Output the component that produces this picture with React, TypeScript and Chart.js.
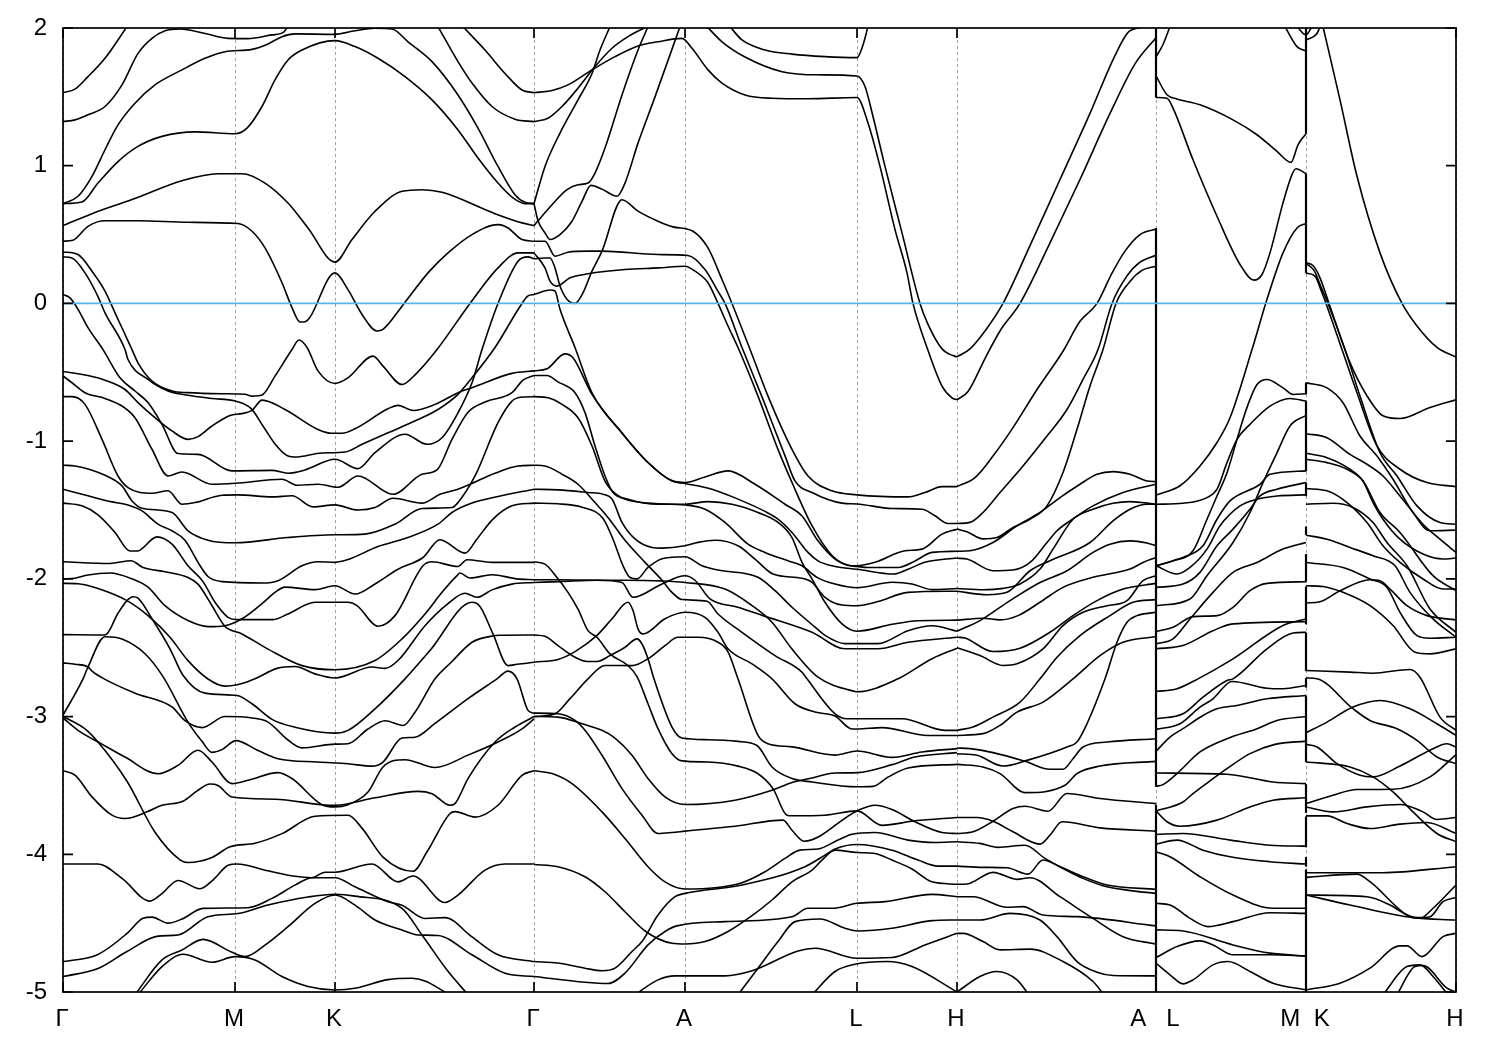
import React, { useEffect, useRef } from "react";
import { Chart, registerables } from "chart.js";

Chart.register(...registerables);

const kTicks = [63, 235, 335, 534, 685, 857, 957, 1156, 1306, 1456];
const kLabels = ["Γ", "M", "K", "Γ", "A", "L", "H", "A   L", "M  K", "H"];
const energyMin = -5;
const energyMax = 2;
const fermiLevel = 0;

// Each band: k, E, k, E, ...
const bandsGammaMKGamma: number[][] = [
  [63,1.53,75,1.556,88,1.647,105,1.78,127,2.01],
  [63,1.32,75,1.333,88,1.37,105,1.43,122,1.587,138,1.816,152,1.925,165,1.98,180,1.993,205,1.96,228,1.925,248,1.923,272,1.95,283,1.966,288,2.01],
  [63,.725,78,.778,92,.923,105,1.116,118,1.297,135,1.454,155,1.587,182,1.696,205,1.78,225,1.828,252,1.845,268,1.884,282,1.937,295,1.957,335,1.954,355,1.98,375,1.998,392,1.993,408,1.9,432,1.756,458,1.514,478,1.273,498,.995,515,.79,525,.734,534,.725],
  [63,.725,82,.737,98,.874,118,1.03,138,1.14,162,1.213,195,1.246,235,1.232,247,1.273,262,1.43,275,1.623,288,1.768,302,1.84,335,1.908,355,1.865,378,1.78,405,1.647,432,1.478,458,1.26,478,1.056,498,.874,513,.766,525,.725,534,.725],
  [63,.565,92,.652,132,.754,182,.891,218,.942,242,.942,265,.874,288,.729,308,.548,335,.3,352,.464,375,.669,402,.814,422,.826,442,.807,495,.652,522,.585,534,.565],
  [63,.452,73,.459,88,.56,105,.6,138,.6,188,.589,238,.58,252,.524,265,.403,282,.15,292,-.03,300,-.135,304,-.135,335,.222,348,.1,362,-.08,377,-.2,383,-.188,402,-.02,428,.222,448,.367,472,.5,498,.572,508,.548,522,.464,534,.452],
  [63,.374,78,.355,92,.234,105,.09,115,-.068,132,-.335,138,-.431,152,-.564,172,-.636,188,-.648,222,-.656,245,-.66,252,-.673,262,-.665,275,-.528,292,-.335,299,-.266,307,-.32,318,-.49,335,-.581,348,-.54,373,-.383,383,-.455,402,-.589,417,-.504,437,-.335,470,0,498,.258,518,.367,534,.367],
  [63,.338,72,.33,85,.222,98,.05,105,-.068,125,-.335,128,-.407,148,-.552,168,-.636,188,-.667,212,-.69,235,-.709,251,-.762,263,-.89,275,-1.02,288,-1.108,295,-1.115,322,-1.086,345,-1.079,362,-1.023,388,-.939,417,-.847,438,-.77,458,-.66,472,-.54,495,-.32,522,0,528,.055,534,.065],
  [63,.065,70,.04,78,-.043,88,-.176,103,-.335,120,-.54,135,-.636,148,-.72,162,-.878,178,-1.09,198,-1.096,232,-1.216,272,-1.212,288,-1.233,305,-1.209,335,-1.132,358,-1.2,375,-1.084,405,-.95,427,-1.023,442,-.975,458,-.794,472,-.576,482,-.335,498,0,518,.307,528,.338,534,.324],
  [63,-.494,88,-.523,105,-.557,125,-.625,138,-.72,155,-.83,172,-.926,188,-.987,198,-.967,212,-.89,230,-.813,242,-.8,252,-.777,262,-.702,285,-.77,318,-.915,332,-.943,342,-.943,355,-.91,388,-.765,398,-.74,413,-.777,435,-.733,458,-.648,472,-.612,512,-.508,534,-.49],
  [63,-.527,72,-.576,85,-.648,105,-.69,122,-.745,135,-.83,152,-1.059,168,-1.253,182,-1.224,212,-1.313,235,-1.306,282,-1.277,297,-1.32,318,-1.313,338,-1.335,358,-1.253,393,-1.386,422,-1.24,437,-1.209,452,-.987,468,-.79,485,-.716,512,-.648,523,-.557,534,-.523],
  [63,-.677,72,-.677,85,-.733,102,-.987,118,-1.253,128,-1.337,152,-1.378,168,-1.36,182,-1.458,195,-1.446,222,-1.393,238,-1.39,272,-1.405,292,-1.397,313,-1.477,335,-1.463,358,-1.5,375,-1.482,393,-1.415,422,-1.45,440,-1.386,458,-1.349,470,-1.313,495,-1.233,518,-1.18,534,-1.175],
  [63,-1.175,75,-1.18,105,-1.248,122,-1.325,132,-1.434,142,-1.487,172,-1.518,188,-1.651,208,-1.719,235,-1.738,288,-1.7,335,-1.68,365,-1.675,395,-1.603,422,-1.489,452,-1.482,458,-1.446,475,-1.253,498,-.866,512,-.709,522,-.68,534,-.677],
  [63,-1.349,88,-1.397,112,-1.441,128,-1.463,142,-1.506,158,-1.603,172,-1.651,185,-1.72,198,-1.88,208,-1.983,222,-2.02,263,-2.03,278,-2.013,302,-1.905,318,-1.876,335,-1.88,348,-1.86,378,-1.765,405,-1.707,438,-1.603,452,-1.518,472,-1.45,498,-1.402,534,-1.349],
  [63,-1.45,82,-1.47,98,-1.535,115,-1.663,130,-1.798,137,-1.798,157,-1.695,172,-1.748,188,-1.905,203,-2.02,215,-2.17,228,-2.279,237,-2.296,273,-2.296,288,-2.255,315,-2.17,348,-2.17,357,-2.194,378,-2.344,395,-2.267,423,-1.905,432,-1.876,458,-1.91,467,-1.861,492,-1.88,534,-1.88],
  [63,-2.0,75,-1.995,88,-1.972,110,-1.958,132,-2.0,148,-2.06,165,-2.195,188,-2.303,208,-2.347,225,-2.34,242,-2.29,262,-2.18,275,-2.098,285,-2.06,315,-2.078,335,-2.05,355,-2.11,375,-2.037,398,-1.93,423,-1.845,440,-1.716,465,-1.813,477,-1.71,493,-1.566,512,-1.47,534,-1.45],
  [63,-1.876,110,-1.888,131,-1.868,143,-1.917,165,-1.948,188,-1.99,198,-2.038,212,-2.195,225,-2.345,242,-2.4,268,-2.51,302,-2.63,335,-2.66,375,-2.593,402,-2.436,425,-2.255,442,-2.098,457,-1.977,460,-1.958,470,-1.994,492,-1.97,517,-2.0,534,-2.006],
  [63,-2.033,78,-2.035,98,-2.07,127,-2.158,148,-2.267,170,-2.424,188,-2.594,208,-2.727,225,-2.779,242,-2.76,255,-2.726,277,-2.65,295,-2.636,315,-2.69,335,-2.72,372,-2.64,385,-2.65,398,-2.593,425,-2.34,448,-2.18,465,-2.105,477,-2.134,492,-2.08,512,-2.038,534,-2.026],
  [63,-2.405,105,-2.408,118,-2.25,127,-2.158,133,-2.13,138,-2.14,152,-2.29,170,-2.508,183,-2.7,205,-2.83,237,-2.847,252,-2.907,272,-3.02,295,-3.077,335,-3.12,348,-3.1,375,-2.944,405,-2.726,430,-2.52,472,-2.17,480,-2.2,493,-2.4,508,-2.63,517,-2.62,534,-2.606],
  [63,-2.99,83,-2.726,88,-2.64,105,-2.42,122,-2.437,145,-2.544,163,-2.71,188,-3.04,202,-3.18,212,-3.26,222,-3.24,236,-3.175,258,-3.246,278,-3.306,318,-3.33,348,-3.343,372,-3.36,383,-3.33,402,-3.156,415,-3.15,435,-3.05,468,-2.87,497,-2.726,508,-2.67,517,-2.726,528,-2.955,534,-2.976],
  [63,-2.61,75,-2.62,88,-2.64,92,-2.67,105,-2.73,135,-2.83,172,-2.93,185,-3.03,202,-3.08,225,-3.0,252,-3.01,268,-3.04,288,-3.17,302,-3.227,335,-3.2,348,-3.197,368,-3.09,385,-3.03,403,-3.065,415,-2.968,435,-2.726,452,-2.6,472,-2.46,492,-2.416,500,-2.41,534,-2.408],
  [63,-3.0,85,-3.09,98,-3.185,127,-3.47,155,-3.84,180,-4.04,188,-4.06,212,-4.023,230,-3.946,255,-3.92,282,-3.85,315,-3.724,348,-3.717,362,-3.81,383,-4.02,413,-4.123,427,-3.982,450,-3.704,455,-3.69,475,-3.73,498,-3.644,522,-3.427,534,-3.393],
  [63,-3.01,78,-3.1,102,-3.2,125,-3.294,158,-3.415,178,-3.354,198,-3.245,212,-3.33,232,-3.487,248,-3.463,278,-3.407,292,-3.45,322,-3.64,335,-3.656,348,-3.64,368,-3.547,383,-3.366,405,-3.313,435,-3.37,468,-3.28,498,-3.185,522,-3.09,534,-3.016],
  [63,-3.393,75,-3.426,92,-3.583,112,-3.716,125,-3.74,147,-3.692,162,-3.644,183,-3.615,198,-3.535,210,-3.49,218,-3.5,232,-3.584,275,-3.6,322,-3.64,335,-3.644,375,-3.59,418,-3.543,432,-3.56,450,-3.644,455,-3.632,468,-3.45,495,-3.185,515,-3.076,534,-3.0],
  [63,-4.07,98,-4.07,122,-4.175,150,-4.34,162,-4.285,178,-4.19,200,-4.25,213,-4.187,228,-4.08,237,-4.07,268,-4.12,295,-4.16,312,-4.17,325,-4.13,335,-4.13,372,-4.07,398,-4.2,413,-4.158,445,-4.35,458,-4.296,485,-4.115,505,-4.07,534,-4.07],
  [63,-4.78,98,-4.727,127,-4.575,143,-4.465,152,-4.456,168,-4.5,182,-4.47,203,-4.393,248,-4.388,272,-4.32,295,-4.224,312,-4.17,335,-4.17,355,-4.236,388,-4.345,402,-4.37,425,-4.466,445,-4.46,472,-4.6,498,-4.73,534,-4.78],
  [63,-4.888,98,-4.83,127,-4.706,158,-4.594,178,-4.586,208,-4.453,238,-4.43,268,-4.368,308,-4.31,335,-4.29,355,-4.304,402,-4.393,422,-4.586,448,-4.85,468,-5.02],
  [135,-5.02,162,-4.767,182,-4.695,203,-4.618,232,-4.712,245,-4.743,265,-4.66,288,-4.526,315,-4.357,335,-4.296,355,-4.369,375,-4.477,402,-4.55,418,-4.586,438,-4.59,472,-4.73,505,-4.864,534,-4.888],
  [138,-5.02,162,-4.816,183,-4.726,212,-4.784,235,-4.743,255,-4.767,282,-4.888,308,-4.96,335,-4.985,355,-4.973,388,-4.91,412,-4.9,425,-4.92,445,-5.0],
  [438,2.01,458,1.756,472,1.6,492,1.43,515,1.338,534,1.32],
  [463,2.01,485,1.84,505,1.67,522,1.55,534,1.53],
];

const bandsGammaALH: number[][] = [
  [534,1.53,552,1.546,568,1.587,592,1.696,615,1.792,638,1.87,658,1.9,682,1.925,692,1.853,708,1.696,722,1.6,745,1.514,772,1.49,808,1.486,857,1.495,868,1.31,880,.995,895,.536,907,.222,913,0,927,-.32,942,-.6,952,-.685,957,-.7],
  [534,1.32,548,1.345,562,1.43,578,1.563,595,1.72,612,1.853,628,1.937,647,2.01],
  [534,.725,545,.995,560,1.237,578,1.478,592,1.67,600,1.84,610,2.01],
  [534,.565,538,.6,552,.717,567,.826,578,.862,588,.874,595,.947,605,1.128,622,1.514,638,1.84,648,2.01],
  [707,2.01,722,1.9,745,1.79,782,1.683,818,1.66,857,1.652,865,1.575,873,1.357,885,.995,902,.512,920,0,928,-.152,942,-.33,950,-.37,957,-.388],
  [730,2.01,742,1.913,765,1.84,792,1.81,825,1.792,857,1.785,863,1.877,868,2.01],
  [534,.725,538,.6,545,.512,550,.464,560,.5,572,.597,582,.741,591,.857,602,.83,617,.778,625,.874,638,1.164,655,1.5,680,2.01],
  [534,.452,545,.452,555,.343,568,.372,588,.38,602,.38,658,.355,688,.348,705,.246,717,.1,725,0,742,-.32,763,-.697,785,-1.107,795,-1.289,812,-1.373,842,-1.45,857,-1.456,892,-1.489,922,-1.494,935,-1.542,948,-1.598,957,-1.598],
  [534,.367,545,.258,550,.162,557,.126,570,.186,588,.215,625,.246,658,.258,685,.27,695,.234,708,.15,718,0,728,-.164,738,-.32,758,-.673,778,-1.06,792,-1.3,812,-1.614,832,-1.83,852,-1.905,857,-1.905,875,-1.88,905,-1.796,922,-1.784,942,-1.675,957,-1.639],
  [534,.324,545,.33,550,.33,555,.258,560,.126,567,.03,575,0,583,.077,592,.234,602,.38,622,.753,638,.67,658,.597,673,.556,693,.524,708,.403,722,.174,732,0,750,-.333,768,-.673,792,-1.06,808,-1.253,832,-1.361,857,-1.39,908,-1.405,925,-1.373,942,-1.33,957,-1.33],
  [534,.065,550,.097,555,.09,560,-.043,575,-.32,592,-.649,622,-.939,648,-1.155,675,-1.294,685,-1.3,705,-1.26,728,-1.216,755,-1.313,785,-1.458,802,-1.543,818,-1.724,835,-1.857,850,-1.905,857,-1.91,868,-1.917,898,-1.917,915,-1.87,932,-1.808,957,-1.8],
  [534,-.49,547,-.475,565,-.366,573,-.395,592,-.66,622,-.943,648,-1.155,672,-1.29,685,-1.308,712,-1.349,738,-1.421,765,-1.51,778,-1.566,792,-1.663,808,-1.808,818,-1.869,835,-1.91,857,-1.93,894,-1.965,908,-1.93,925,-1.88,957,-1.848],
  [534,-.523,547,-.523,558,-.57,575,-.648,585,-.793,595,-1.035,605,-1.253,613,-1.373,628,-1.422,658,-1.458,685,-1.458,708,-1.439,732,-1.458,758,-1.518,778,-1.59,792,-1.7,802,-1.88,812,-2.0,825,-2.17,842,-2.327,857,-2.38,892,-2.33,918,-2.304,957,-2.3],
  [534,-.677,548,-.685,562,-.733,578,-.83,592,-1.035,605,-1.29,617,-1.39,642,-1.446,685,-1.463,705,-1.494,725,-1.59,748,-1.748,765,-1.808,788,-1.868,802,-1.905,817,-1.989,835,-2.038,857,-2.065,892,-2.025,912,-2.037,932,-2.078,957,-2.07],
  [534,-1.175,545,-1.18,562,-1.24,578,-1.313,595,-1.446,608,-1.554,625,-1.72,645,-1.88,662,-2.01,672,-2.098,682,-2.15,707,-2.163,718,-2.255,742,-2.388,775,-2.557,802,-2.678,807,-2.726,835,-2.98,847,-3.016,902,-3.016,945,-3.1,957,-3.1],
  [534,-1.349,558,-1.354,588,-1.373,603,-1.385,612,-1.42,622,-1.59,635,-1.71,652,-1.772,662,-1.777,685,-1.76,698,-1.735,715,-1.72,738,-1.76,755,-1.856,773,-1.965,802,-1.996,812,-2.025,825,-2.134,842,-2.19,857,-2.195,878,-2.165,908,-2.098,957,-2.09],
  [534,-1.45,558,-1.455,582,-1.48,603,-1.562,613,-1.712,623,-1.905,630,-1.99,637,-2.0,648,-1.917,663,-1.852,685,-1.84,702,-1.905,718,-1.936,758,-1.989,775,-2.086,792,-2.206,815,-2.35,825,-2.41,845,-2.47,878,-2.47,908,-2.376,932,-2.34,957,-2.38],
  [534,-2.006,560,-2.006,603,-2.01,625,-2.01,662,-2.015,685,-2.026,725,-2.074,752,-2.194,772,-2.315,792,-2.51,818,-2.714,855,-2.818,857,-2.82,898,-2.726,932,-2.58,957,-2.504],
  [534,-2.026,560,-2.02,597,-2.01,622,-2.026,633,-2.134,662,-2.037,685,-1.977,695,-2.01,710,-2.146,738,-2.206,763,-2.267,812,-2.388,845,-2.508,878,-2.508,908,-2.46,957,-2.424],
  [534,-1.876,545,-1.893,558,-2.0,568,-2.098,578,-2.22,588,-2.376,597,-2.424,610,-2.545,628,-2.63,637,-2.71,648,-2.907,658,-3.088,672,-3.27,682,-3.322,708,-3.33,738,-3.36,758,-3.415,773,-3.523,787,-3.716,792,-3.72,825,-3.716,857,-3.685,882,-3.79,915,-3.757,957,-3.733],
  [534,-2.408,545,-2.417,558,-2.485,572,-2.557,587,-2.6,597,-2.6,610,-2.557,625,-2.497,637,-2.436,642,-2.473,648,-2.58,654,-2.726,672,-3.076,682,-3.156,708,-3.168,738,-3.18,757,-3.21,772,-3.366,792,-3.45,812,-3.475,857,-3.51,873,-3.507,888,-3.44,908,-3.373,957,-3.347],
  [534,-3.0,555,-2.98,570,-2.87,588,-2.726,605,-2.629,632,-2.63,648,-2.58,665,-2.485,678,-2.424,698,-2.424,718,-2.46,728,-2.53,738,-2.726,758,-3.137,768,-3.197,792,-3.22,835,-3.28,857,-3.25,892,-3.296,922,-3.257,957,-3.233],
  [534,-2.605,558,-2.585,575,-2.528,597,-2.41,612,-2.29,628,-2.17,633,-2.23,638,-2.363,643,-2.4,665,-2.29,685,-2.243,705,-2.28,718,-2.388,728,-2.508,752,-2.617,772,-2.726,795,-2.907,815,-2.967,835,-2.996,852,-3.09,857,-3.09,882,-3.08,928,-3.137,957,-3.137],
  [534,-2.975,558,-2.98,575,-3.028,585,-3.1,602,-3.281,622,-3.523,642,-3.716,658,-3.849,672,-3.842,685,-3.832,735,-3.796,783,-3.752,792,-3.825,804,-3.905,857,-3.685,875,-3.644,892,-3.675,915,-3.764,942,-3.842,957,-3.849],
  [534,-2.999,558,-3.004,582,-3.052,602,-3.1,615,-3.156,632,-3.281,648,-3.45,665,-3.583,685,-3.639,735,-3.607,772,-3.535,792,-3.479,812,-3.446,835,-3.41,857,-3.407,892,-3.349,915,-3.293,957,-3.262],
  [534,-3.393,552,-3.414,572,-3.487,602,-3.692,625,-3.885,648,-4.09,665,-4.2,685,-4.252,715,-4.243,742,-4.206,765,-4.127,785,-4.03,800,-3.97,818,-3.962,838,-3.897,852,-3.854,875,-3.842,908,-3.897,935,-3.914,957,-3.909],
  [534,-4.074,558,-4.09,585,-4.163,605,-4.272,625,-4.417,645,-4.557,672,-4.646,685,-4.651,705,-4.634,728,-4.561,752,-4.446,772,-4.332,792,-4.2,812,-4.115,822,-4.042,835,-3.97,857,-3.987,875,-3.994,892,-4.042,912,-4.107,932,-4.2,957,-4.218],
  [534,-4.779,558,-4.79,585,-4.827,602,-4.846,615,-4.827,632,-4.706,642,-4.634,658,-4.441,675,-4.308,685,-4.284,742,-4.223,805,-4.09,825,-4.006,835,-3.962,857,-3.929,892,-3.97,918,-4.042,938,-4.086,957,-4.086],
  [534,-4.887,585,-4.929,608,-4.938,625,-4.863,648,-4.658,665,-4.561,677,-4.52,725,-4.489,792,-4.453,808,-4.392,832,-4.392,857,-4.356,885,-4.344,932,-4.291,957,-4.308],
  [635,-5.02,658,-4.912,675,-4.883,725,-4.883,752,-4.846,798,-4.702,815,-4.682,857,-4.755,892,-4.75,925,-4.658,957,-4.574],
  [738,-5.02,758,-4.827,778,-4.634,795,-4.489,820,-4.47,845,-4.537,858,-4.557,892,-4.537,932,-4.482,957,-4.477],
  [812,-5.02,835,-4.851,855,-4.798,887,-4.779,912,-4.815,957,-5.0],
];

const bandsHA: number[][] = [
  [957,-.388,970,-.33,985,-.2,1003,0,1030,.42,1060,.9,1090,1.38,1115,1.8,1130,1.98,1150,2.01],
  [957,-.7,968,-.64,985,-.4,1000,-.2,1020,0,1050,.44,1080,.9,1110,1.38,1135,1.74,1156,1.93],
  [957,-1.33,975,-1.265,993,-1.108,1013,-.902,1037,-.625,1063,-.347,1080,-.13,1097,0,1112,.22,1125,.38,1140,.5,1156,.54],
  [957,-1.598,970,-1.59,983,-1.518,1000,-1.373,1023,-1.18,1047,-.963,1067,-.77,1083,-.552,1098,-.335,1112,0,1127,.2,1140,.3,1156,.35],
  [957,-1.639,967,-1.658,983,-1.71,997,-1.7,1013,-1.627,1030,-1.567,1047,-1.47,1063,-1.228,1077,-.914,1090,-.6,1103,-.335,1116,0,1130,.16,1142,.24,1156,.27],
  [957,-1.8,970,-1.796,993,-1.736,1017,-1.615,1040,-1.518,1060,-1.41,1080,-1.313,1097,-1.241,1113,-1.221,1130,-1.241,1147,-1.289,1156,-1.294],
  [957,-1.85,967,-1.856,993,-1.941,1013,-1.936,1030,-1.881,1047,-1.736,1057,-1.651,1070,-1.579,1093,-1.47,1123,-1.373,1156,-1.313],
  [957,-2.07,983,-2.079,1003,-2.069,1020,-2.037,1040,-1.929,1053,-1.784,1073,-1.567,1093,-1.494,1113,-1.451,1130,-1.439,1156,-1.458],
  [957,-2.09,987,-2.115,1007,-2.098,1030,-1.941,1050,-1.868,1090,-1.736,1113,-1.579,1130,-1.494,1147,-1.458,1156,-1.458],
  [957,-2.3,983,-2.286,1000,-2.298,1018,-2.267,1040,-2.17,1063,-2.062,1093,-1.989,1130,-1.929,1143,-1.881,1156,-1.845],
  [957,-2.38,980,-2.303,1010,-2.158,1040,-2.026,1067,-1.941,1093,-1.808,1110,-1.748,1130,-1.724,1147,-1.74,1156,-1.76],
  [957,-2.424,965,-2.43,993,-2.528,1020,-2.504,1050,-2.388,1073,-2.267,1097,-2.158,1123,-2.074,1156,-2.033],
  [957,-2.501,980,-2.557,1003,-2.629,1017,-2.617,1043,-2.509,1063,-2.34,1083,-2.243,1107,-2.195,1127,-2.158,1143,-2.013,1156,-1.977],
  [957,-3.1,973,-3.076,993,-3.004,1020,-2.895,1040,-2.726,1057,-2.569,1080,-2.412,1110,-2.267,1133,-2.17,1156,-2.151],
  [957,-3.137,983,-3.124,1000,-3.064,1017,-2.968,1043,-2.895,1073,-2.726,1100,-2.557,1123,-2.46,1156,-2.419],
  [957,-3.27,977,-3.281,1003,-3.359,1027,-3.318,1067,-3.221,1077,-3.185,1087,-3.052,1105,-2.726,1117,-2.46,1127,-2.315,1137,-2.267,1156,-2.243],
  [957,-3.228,970,-3.233,993,-3.262,1025,-3.325,1050,-3.383,1063,-3.383,1073,-3.306,1083,-3.221,1107,-3.185,1156,-3.161],
  [957,-3.347,983,-3.366,1000,-3.414,1025,-3.552,1065,-3.499,1077,-3.414,1100,-3.359,1156,-3.325],
  [957,-3.733,977,-3.733,993,-3.76,1013,-3.837,1040,-3.926,1050,-3.861,1062,-3.764,1100,-3.808,1156,-3.832],
  [957,-3.849,973,-3.837,993,-3.76,1013,-3.668,1025,-3.651,1048,-3.687,1067,-3.559,1100,-3.595,1156,-3.632],
  [957,-3.909,980,-3.921,998,-3.95,1025,-3.934,1045,-4.03,1063,-4.103,1083,-4.175,1103,-4.228,1127,-4.26,1156,-4.284],
  [957,-4.086,983,-4.095,1007,-4.098,1028,-4.144,1043,-4.042,1060,-4.09,1083,-4.163,1107,-4.223,1156,-4.255],
  [957,-4.218,967,-4.216,993,-4.131,1017,-4.182,1030,-4.17,1060,-4.308,1093,-4.465,1123,-4.598,1156,-4.653],
  [957,-4.308,973,-4.308,1007,-4.385,1023,-4.38,1043,-4.441,1077,-4.453,1156,-4.52],
  [957,-4.477,980,-4.477,1010,-4.429,1040,-4.477,1057,-4.598,1077,-4.779,1097,-4.856,1113,-4.88,1156,-4.883],
  [957,-4.574,963,-4.574,983,-4.634,1000,-4.694,1030,-4.689,1063,-4.779,1093,-4.924,1104,-5.02],
  [957,-5.0,980,-4.887,997,-4.851,1017,-4.912,1029,-5.02],
];

const bandsLM: number[][] = [
  [1156,1.79,1163,1.88,1170,2.01],
  [1156,1.652,1167,1.515,1177,1.485,1200,1.442,1233,1.333,1257,1.225,1277,1.104,1291,1.024,1298,1.152,1306,1.232],
  [1156,1.495,1167,1.49,1173,1.418,1193,1.043,1217,.633,1240,.283,1254,.169,1262,.21,1270,.367,1283,.73,1292,.935,1296,.978,1306,.942],
  [1285,2.01,1297,1.865,1306,1.833],
  [1157,-1.39,1180,-1.324,1200,-1.18,1217,-1.01,1230,-.83,1252,-.335,1267,.03,1283,.367,1297,.548,1306,.58],
  [1156,-1.905,1173,-1.868,1193,-1.796,1207,-1.567,1217,-1.398,1227,-1.229,1237,-.987,1243,-.842,1250,-.697,1257,-.589,1267,-.552,1283,-.613,1293,-.661,1306,-.656],
  [1156,-1.458,1183,-1.451,1207,-1.41,1217,-1.349,1227,-1.156,1237,-.987,1250,-.878,1270,-.746,1290,-.69,1306,-.709],
  [1156,-1.905,1183,-1.844,1203,-1.76,1217,-1.567,1230,-1.434,1260,-1.313,1270,-1.241,1306,-1.216],
  [1156,-1.905,1177,-1.965,1190,-1.917,1207,-1.784,1220,-1.615,1240,-1.47,1257,-1.422,1277,-1.398,1306,-1.39],
  [1156,-2.062,1183,-2.038,1200,-1.953,1217,-1.76,1233,-1.639,1250,-1.494,1260,-1.398,1277,-1.349,1306,-1.301],
  [1156,-2.195,1190,-2.146,1207,-1.977,1233,-1.736,1250,-1.518,1263,-1.301,1277,-1.084,1290,-.89,1306,-.813],
  [1156,-2.472,1173,-2.436,1190,-2.291,1213,-2.098,1233,-1.953,1257,-1.881,1283,-1.784,1306,-1.736],
  [1156,-2.383,1173,-2.351,1193,-2.274,1217,-2.267,1233,-2.207,1250,-2.086,1267,-2.033,1306,-2.021],
  [1156,-2.508,1183,-2.484,1213,-2.376,1233,-2.327,1306,-2.311],
  [1156,-2.818,1177,-2.798,1198,-2.726,1233,-2.581,1283,-2.339,1306,-2.291],
  [1156,-3.016,1183,-2.98,1203,-2.859,1227,-2.738,1233,-2.726,1267,-2.508,1293,-2.393,1306,-2.388],
  [1156,-3.093,1180,-3.052,1200,-2.931,1213,-2.871,1232,-2.745,1267,-2.794,1283,-2.798,1306,-2.774],
  [1156,-3.252,1170,-3.149,1183,-3.088,1203,-2.992,1217,-2.943,1237,-2.919,1267,-2.871,1306,-2.847],
  [1156,-3.506,1163,-3.494,1177,-3.414,1200,-3.257,1227,-3.161,1257,-3.088,1277,-3.028,1306,-2.999],
  [1156,-3.685,1183,-3.62,1193,-3.559,1213,-3.451,1227,-3.378,1250,-3.269,1275,-3.202,1306,-3.178],
  [1156,-3.41,1227,-3.419,1273,-3.475,1306,-3.487],
  [1156,-3.685,1167,-3.764,1180,-3.796,1217,-3.752,1250,-3.656,1273,-3.607,1306,-3.59],
  [1156,-3.856,1183,-3.849,1230,-3.897,1270,-3.934,1306,-3.941],
  [1156,-3.926,1177,-3.897,1203,-3.97,1230,-4.018,1270,-4.054,1306,-4.071],
  [1156,-3.982,1170,-4.018,1200,-4.163,1233,-4.296,1273,-4.392,1306,-4.392],
  [1156,-4.356,1170,-4.368,1190,-4.465,1208,-4.525,1233,-4.489,1270,-4.424,1306,-4.429],
  [1156,-4.549,1183,-4.557,1233,-4.658,1270,-4.718,1306,-4.738],
  [1156,-4.75,1177,-4.67,1200,-4.629,1213,-4.658,1233,-4.73,1270,-4.73,1306,-4.738],
  [1156,-4.791,1170,-4.875,1183,-4.941,1193,-4.912,1213,-4.803,1228,-4.779,1250,-4.851,1273,-4.936,1306,-4.984],
];

const bandsKH: number[][] = [
  [1323,2.01,1340,1.478,1357,.923,1380,.367,1402,0,1417,-.164,1437,-.32,1456,-.39],
  [1297,2.01,1306,1.95,1312,2.01],
  [1306,1.913,1317,1.96,1320,2.01],
  [1306,.295,1313,.275,1320,.186,1329,0,1350,-.43,1367,-.671,1383,-.816,1400,-.836,1430,-.756,1456,-.7],
  [1306,.22,1315,.198,1322,.077,1326,0,1342,-.335,1357,-.649,1377,-1.035,1400,-1.204,1427,-1.301,1456,-1.33],
  [1306,.29,1314,.24,1321,.12,1328,0,1345,-.335,1360,-.673,1380,-1.084,1397,-1.253,1417,-1.47,1440,-1.591,1456,-1.603],
  [1306,-.577,1327,-.613,1343,-.721,1360,-.963,1377,-1.108,1393,-1.277,1413,-1.518,1430,-1.651,1456,-1.646],
  [1306,-.946,1327,-.975,1350,-1.096,1367,-1.168,1383,-1.253,1400,-1.398,1423,-1.603,1440,-1.712,1456,-1.808],
  [1306,-1.088,1327,-1.12,1350,-1.204,1363,-1.289,1373,-1.446,1383,-1.567,1400,-1.712,1423,-1.82,1443,-1.856,1456,-1.849],
  [1306,-1.132,1327,-1.156,1347,-1.204,1363,-1.289,1380,-1.518,1400,-1.663,1433,-1.977,1456,-2.086],
  [1306,-1.344,1327,-1.361,1347,-1.446,1367,-1.591,1383,-1.76,1400,-1.881,1423,-2.001,1443,-2.074,1456,-2.074],
  [1306,-1.458,1333,-1.451,1353,-1.482,1373,-1.591,1387,-1.736,1407,-1.905,1430,-2.219,1456,-2.388],
  [1306,-1.683,1327,-1.712,1350,-1.772,1373,-1.832,1395,-1.905,1410,-2.098,1433,-2.291,1456,-2.424],
  [1306,-1.881,1343,-1.917,1370,-2.001,1387,-2.062,1400,-2.243,1417,-2.412,1430,-2.431,1456,-2.424],
  [1306,-2.05,1323,-2.055,1343,-2.098,1370,-2.195,1393,-2.339,1415,-2.533,1430,-2.545,1456,-2.508],
  [1306,-2.175,1320,-2.166,1340,-2.086,1370,-2.006,1380,-2.013,1390,-2.074,1407,-2.195,1427,-2.267,1456,-2.298],
  [1306,-2.665,1350,-2.677,1373,-2.685,1410,-2.658,1420,-2.714,1440,-3.004,1456,-3.1],
  [1306,-3.117,1327,-3.04,1353,-2.931,1380,-2.883,1410,-2.943,1437,-3.052,1456,-3.137],
  [1306,-2.72,1317,-2.726,1353,-2.943,1370,-3.028,1397,-3.088,1417,-3.173,1437,-3.294,1456,-3.342],
  [1306,-3.202,1317,-3.221,1337,-3.342,1360,-3.426,1373,-3.438,1400,-3.359,1430,-3.245,1447,-3.197,1456,-3.221],
  [1306,-3.33,1350,-3.366,1373,-3.438,1393,-3.547,1413,-3.692,1437,-3.849,1456,-3.909],
  [1306,-3.632,1333,-3.571,1357,-3.53,1393,-3.528,1430,-3.438,1456,-3.277],
  [1306,-3.656,1333,-3.692,1367,-3.656,1400,-3.639,1423,-3.692,1437,-3.747,1456,-3.733],
  [1306,-3.721,1327,-3.721,1347,-3.777,1370,-3.813,1400,-3.781,1427,-3.769,1456,-3.849],
  [1306,-4.134,1383,-4.134,1456,-4.09],
  [1306,-4.168,1357,-4.144,1370,-4.199,1407,-4.441,1420,-4.465,1433,-4.392,1456,-4.223],
  [1306,-4.296,1367,-4.308,1390,-4.368,1407,-4.441,1417,-4.46,1430,-4.453,1443,-4.344,1456,-4.313],
  [1306,-4.296,1350,-4.368,1413,-4.46,1456,-4.477],
  [1306,-4.984,1340,-4.936,1370,-4.827,1400,-4.665,1407,-4.665,1422,-4.743,1443,-4.598,1456,-4.574],
  [1383,-5.02,1407,-4.815,1420,-4.803,1433,-4.887,1448,-5.02],
  [1397,-5.02,1415,-4.815,1423,-4.808,1447,-4.972,1456,-5.0],
];

// Energy ranges of the discontinuities where the path jumps
const breakAL = 1156;
const jumpsAL: number[][] = [[-5, -3.64], [-3.51, 0.548], [1.495, 2]];
const breakMK = 1306;
const jumpsMK: number[][] = [
  [1.232, 2], [0.222, 0.942], [-0.66, -0.574], [-1.22, -0.71], [-1.4, -1.3], [-1.68, -1.62],
  [-2.02, -1.82], [-2.33, -2.055], [-2.67, -2.39], [-2.79, -2.72], [-3.33, -2.85],
  [-3.7, -3.49], [-3.95, -3.725], [-4.09, -4.02], [-5, -4.11],
];

const allBands = [...bandsGammaMKGamma, ...bandsGammaALH, ...bandsHA, ...bandsLM, ...bandsKH];

function toPoints(flat: number[]) {
  const pts: { x: number; y: number }[] = [];
  for (let i = 0; i < flat.length; i += 2) pts.push({ x: flat[i], y: flat[i + 1] });
  return pts;
}

const frameAndTicks = {
  id: "frameAndTicks",
  afterDatasetsDraw(chart: any) {
    const { ctx, chartArea: a, scales } = chart;
    const len = 10;
    ctx.save();
    ctx.strokeStyle = "#000";
    ctx.lineWidth = 1.7;
    ctx.setLineDash([]);
    ctx.strokeRect(a.left, a.top, a.right - a.left, a.bottom - a.top);
    ctx.beginPath();
    scales.x.ticks.forEach((t: any) => {
      const px = scales.x.getPixelForValue(t.value);
      ctx.moveTo(px, a.top);
      ctx.lineTo(px, a.top + len);
      ctx.moveTo(px, a.bottom);
      ctx.lineTo(px, a.bottom - len);
    });
    scales.y.ticks.forEach((t: any) => {
      const py = scales.y.getPixelForValue(t.value);
      ctx.moveTo(a.left, py);
      ctx.lineTo(a.left + len, py);
      ctx.moveTo(a.right, py);
      ctx.lineTo(a.right - len, py);
    });
    ctx.stroke();
    ctx.restore();
  },
};

export default function App() {
  const ref = useRef<HTMLCanvasElement>(null);
  useEffect(() => {
    if (!ref.current) return;
    const datasets: any[] = [
      {
        data: [{ x: kTicks[0], y: fermiLevel }, { x: kTicks[kTicks.length - 1], y: fermiLevel }],
        borderColor: "#56b4e9",
        borderWidth: 1.7,
        pointRadius: 0,
      },
      ...jumpsAL.map((r) => ({
        data: [{ x: breakAL, y: r[0] }, { x: breakAL, y: r[1] }],
        borderColor: "#000",
        borderWidth: 2.2,
        pointRadius: 0,
      })),
      ...jumpsMK.map((r) => ({
        data: [{ x: breakMK, y: r[0] }, { x: breakMK, y: r[1] }],
        borderColor: "#000",
        borderWidth: 2.2,
        pointRadius: 0,
      })),
      ...allBands.map((b) => ({
        data: toPoints(b),
        borderColor: "#000",
        borderWidth: 1.6,
        pointRadius: 0,
        cubicInterpolationMode: "monotone",
      })),
    ];
    const font = { family: "'Liberation Sans', Arial, sans-serif", size: 24 };
    const chart = new Chart(ref.current, {
      type: "line",
      data: { datasets },
      plugins: [frameAndTicks],
      options: {
        animation: false,
        responsive: false,
        devicePixelRatio: 1,
        layout: { autoPadding: false, padding: { left: 0, top: 28, right: 44, bottom: 0 } },
        plugins: { legend: { display: false }, tooltip: { enabled: false } },
        scales: {
          x: {
            type: "linear",
            min: kTicks[0],
            max: kTicks[kTicks.length - 1],
            afterBuildTicks: (s: any) => {
              s.ticks = kTicks.map((v) => ({ value: v }));
            },
            afterFit: (s: any) => {
              s.height = 58;
              s.paddingLeft = 0;
              s.paddingRight = 0;
            },
            grid: { color: "#a0a0a0", lineWidth: 1, drawTicks: false },
            border: { display: false, dash: [3, 3] },
            ticks: {
              autoSkip: false,
              maxRotation: 0,
              minRotation: 0,
              padding: 13,
              labelOffset: -1,
              color: "#000",
              font,
              callback: (_v: any, i: number) => kLabels[i],
            },
          },
          y: {
            type: "linear",
            min: energyMin,
            max: energyMax,
            afterFit: (s: any) => {
              s.width = 63;
              s.paddingTop = 0;
              s.paddingBottom = 0;
            },
            grid: { display: false, drawTicks: false },
            border: { display: false },
            ticks: { stepSize: 1, padding: 16, color: "#000", font },
          },
        },
      } as any,
    });
    return () => chart.destroy();
  }, []);
  return (
    <div style={{ position: "absolute", left: 0, top: 0, width: 1500, height: 1050, background: "#fff" }}>
      <canvas ref={ref} width={1500} height={1050} style={{ display: "block" }} />
    </div>
  );
}
